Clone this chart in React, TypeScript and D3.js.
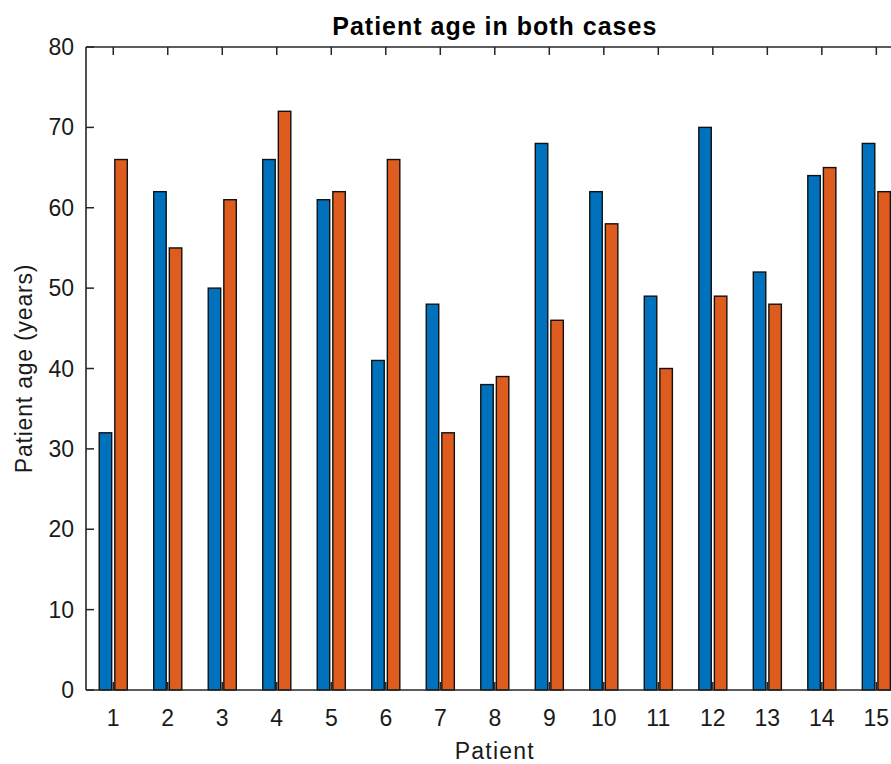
import React from "react";
import * as d3 from "d3";

const patients = [1, 2, 3, 4, 5, 6, 7, 8, 9, 10, 11, 12, 13, 14, 15];
const case1Ages = [32, 62, 50, 66, 61, 41, 48, 38, 68, 62, 49, 70, 52, 64, 68];
const case2Ages = [66, 55, 61, 72, 62, 66, 32, 39, 46, 58, 40, 49, 48, 65, 62];
const yTicks = [0, 10, 20, 30, 40, 50, 60, 70, 80];
const seriesColors = ["#0072BD", "#DE5D1E"];

const W = 891;
const H = 764;
const left = 86;
const right = 903.6;
const top = 47;
const bottom = 690;

export default function App() {
  const x = d3.scaleLinear().domain([0.5, 15.5]).range([left, right]);
  const y = d3.scaleLinear().domain([0, 80]).range([bottom, top]);
  const unit = x(2) - x(1);
  const barW = 0.229 * unit;
  const offsets = [-0.143, 0.143];
  const series = [case1Ages, case2Ages];
  const axisColor = "#262626";
  const textColor = "#1a1a1a";
  const font = "'Liberation Sans', Arial, Helvetica, sans-serif";
  const tickLen = 8;

  return (
    <div style={{ position: "absolute", left: 0, top: 0 }}>
      <svg width={W} height={H} style={{ display: "block", background: "#fff" }}>
        <defs>
          <clipPath id="clip">
            <rect x={0} y={0} width={W} height={H} />
          </clipPath>
        </defs>
        <g clipPath="url(#clip)">
          {series.map((vals, si) =>
            vals.map((v, i) => {
              const cx = x(patients[i] + offsets[si]);
              return (
                <rect
                  key={`${si}-${i}`}
                  x={cx - barW / 2}
                  y={y(v)}
                  width={barW}
                  height={y(0) - y(v)}
                  fill={seriesColors[si]}
                  stroke="#111"
                  strokeWidth={1.4}
                />
              );
            })
          )}
          {patients.map((p) => (
            <g key={`xt-${p}`}>
              <line x1={x(p)} x2={x(p)} y1={bottom} y2={bottom - tickLen} stroke={axisColor} strokeWidth={1.5} />
              <line x1={x(p)} x2={x(p)} y1={top} y2={top + tickLen} stroke={axisColor} strokeWidth={1.5} />
              <text x={x(p)} y={726} textAnchor="middle" fontFamily={font} fontSize={23} fill={textColor}>
                {p}
              </text>
            </g>
          ))}
          {yTicks.map((t) => (
            <g key={`yt-${t}`}>
              <line x1={left} x2={left + tickLen} y1={y(t)} y2={y(t)} stroke={axisColor} strokeWidth={1.5} />
              <line x1={right} x2={right - tickLen} y1={y(t)} y2={y(t)} stroke={axisColor} strokeWidth={1.5} />
              <text x={74} y={y(t) + 8} textAnchor="end" fontFamily={font} fontSize={23} fill={textColor}>
                {t}
              </text>
            </g>
          ))}
          <line x1={left} x2={left} y1={top} y2={bottom} stroke={axisColor} strokeWidth={1.6} />
          <line x1={right} x2={right} y1={top} y2={bottom} stroke={axisColor} strokeWidth={1.6} />
          <line x1={left} x2={right} y1={top} y2={top} stroke={axisColor} strokeWidth={1.6} />
          <line x1={left} x2={right} y1={bottom} y2={bottom} stroke={axisColor} strokeWidth={1.6} />
          <text
            x={(left + right) / 2}
            y={35}
            textAnchor="middle"
            fontFamily={font}
            fontSize={25}
            fontWeight="bold"
            letterSpacing={1}
            fill="#000"
          >
            Patient age in both cases
          </text>
          <text
            x={(left + right) / 2}
            y={759}
            textAnchor="middle"
            fontFamily={font}
            fontSize={23}
            letterSpacing={1.2}
            fill={textColor}
          >
            Patient
          </text>
          <text
            transform={`translate(32, ${(top + bottom) / 2}) rotate(-90)`}
            textAnchor="middle"
            fontFamily={font}
            fontSize={23}
            letterSpacing={0.8}
            fill={textColor}
          >
            Patient age (years)
          </text>
        </g>
      </svg>
    </div>
  );
}
